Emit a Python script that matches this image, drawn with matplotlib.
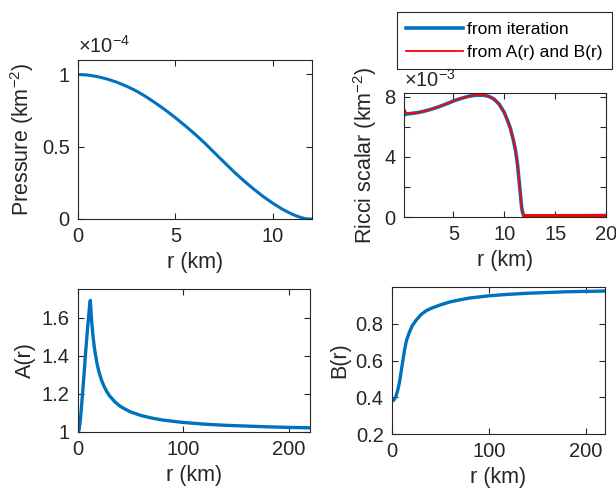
import numpy as np
import matplotlib
matplotlib.use('Agg')
from matplotlib import pyplot as plt

plt.rcParams['font.family'] = ['Liberation Sans', 'DejaVu Sans']
plt.rcParams['mathtext.fontset'] = 'custom'
plt.rcParams['mathtext.rm'] = 'Liberation Sans'
plt.rcParams['mathtext.it'] = 'Liberation Sans:italic'

BLUE = '#0072BD'
RED = '#FF0000'
AXC = '#262626'

# pressure profile (units of 1e-4 km^-2)
r_p = [0, 0.5, 1, 1.5, 2, 2.5, 3, 3.5, 4, 4.5, 5, 5.5, 6, 6.5, 7, 7.5, 8,
       8.5, 9, 9.5, 10, 10.5, 11, 11.3, 11.6, 11.8, 12]
pressure = [1.0, 0.996, 0.985, 0.968, 0.946, 0.918, 0.885, 0.845, 0.80,
            0.752, 0.70, 0.645, 0.587, 0.525, 0.458, 0.392, 0.326, 0.265,
            0.208, 0.155, 0.108, 0.066, 0.032, 0.016, 0.004, 0.0, 0.0]

# Ricci scalar (units of 1e-3 km^-2)
r_ric = [0.13, 0.36, 0.86, 1.5, 2.0, 2.5, 3.0, 3.5, 4.0, 4.5, 5.0, 5.5, 6.0,
         6.5, 7.0, 7.5, 8.0, 8.5, 9.0, 9.5, 10.0, 10.3, 10.6, 10.9, 11.1,
         11.3, 11.45, 11.6, 11.7, 11.8, 11.9, 12.0]
ricci_iter = [6.78, 6.85, 6.89, 6.95, 7.02, 7.11, 7.21, 7.32, 7.45, 7.58,
              7.72, 7.84, 7.94, 8.03, 8.09, 8.11, 8.10, 8.02, 7.84, 7.50,
              6.95, 6.45, 5.89, 5.10, 4.44, 3.50, 2.44, 1.40, 0.67, 0.30,
              0.11, 0.06]
ricci_AB = [7.22, 6.93, 6.89, 6.95, 7.02, 7.11, 7.21, 7.32, 7.45, 7.58,
            7.72, 7.84, 7.94, 8.03, 8.09, 8.11, 8.10, 8.02, 7.84, 7.50,
            6.95, 6.45, 5.89, 5.10, 4.44, 3.50, 2.44, 1.40, 0.67, 0.30,
            0.11, 0.05]
# outside the star both curves scatter around zero
r_tail = [12.0, 14.0, 16.0, 18.0, 20.0]
ricci_iter_tail = [0.06, 0.06, 0.07, 0.07, 0.08]
ricci_AB_tail = [0.05, 0.05, 0.05, 0.05, 0.05]

# metric functions
r_A = [0, 1, 2, 3, 4, 5, 6, 7, 8, 9, 10, 11, 11.7, 12.5, 13, 14, 15, 16, 18,
       20, 22.5, 25, 27.5, 30, 35, 40, 45, 50, 60, 70, 80, 90, 100, 120, 140,
       160, 180, 200, 220]
A_r = [1.0, 1.01, 1.05, 1.11, 1.18, 1.25, 1.32, 1.40, 1.47, 1.54, 1.60, 1.66,
       1.69, 1.617, 1.58, 1.517, 1.466, 1.425, 1.36, 1.313, 1.269, 1.236,
       1.21, 1.189, 1.158, 1.135, 1.119, 1.105, 1.086, 1.073, 1.063, 1.056,
       1.050, 1.041, 1.035, 1.031, 1.027, 1.024, 1.022]
r_B = [0, 2, 4, 6, 8, 10, 11.7, 13, 15, 18, 21, 25, 30, 35, 40, 50, 60, 70,
       80, 100, 120, 140, 160, 180, 200, 220]
B_r = [0.38, 0.385, 0.405, 0.44, 0.49, 0.56, 0.615, 0.66, 0.71, 0.755, 0.79,
       0.82, 0.85, 0.87, 0.883, 0.903, 0.919, 0.93, 0.94, 0.952, 0.96, 0.966,
       0.970, 0.974, 0.976, 0.978]

TICK_FS = 14.5
LABEL_FS = 15.5


def style(ax):
    for s in ax.spines.values():
        s.set_color(AXC)
        s.set_linewidth(0.8)
    ax.tick_params(direction='in', top=True, right=True, colors=AXC,
                   labelsize=TICK_FS, length=4, width=0.8, pad=6)


def exponent(ax, text):
    ax.text(0.0, 1.02, text, transform=ax.transAxes, fontsize=TICK_FS,
            color=AXC, ha='left', va='bottom')


def main():
    fig = plt.figure(figsize=(6.16, 4.95), dpi=100)

    ax1 = fig.add_axes([0.1266, 0.5576, 0.3799, 0.3212])
    ax1.plot(r_p, pressure, color=BLUE, lw=2.2)
    ax1.set_xlim(0, 12)
    ax1.set_ylim(0, 1.1)
    ax1.set_xticks([0, 5, 10])
    ax1.set_yticks([0, 0.5, 1])
    ax1.set_yticklabels(['0', '0.5', '1'])
    ax1.set_xlabel('r (km)', fontsize=LABEL_FS, color=AXC)
    ax1.set_ylabel(r'Pressure (km$^{\mathregular{-2}}$)', fontsize=LABEL_FS, color=AXC)
    style(ax1)
    exponent(ax1, r'$\times$10$^{\mathregular{-4}}$')

    ax2 = fig.add_axes([0.6558, 0.5616, 0.3279, 0.2505])
    l1, = ax2.plot(r_ric, ricci_iter, color=BLUE, lw=2.6)
    ax2.plot(r_tail, ricci_iter_tail, color=BLUE, lw=3.0)
    l2, = ax2.plot(r_ric, ricci_AB, color=RED, lw=1.3)
    ax2.plot(r_tail, ricci_AB_tail, color=RED, lw=2.8)
    ax2.set_xlim(0.13, 20)
    ax2.set_ylim(0, 8.25)
    ax2.set_xticks([5, 10, 15, 20])
    ax2.set_yticks([0, 2, 4, 6, 8])
    ax2.set_yticklabels(['0', '', '4', '', '8'])
    ax2.set_xlabel('r (km)', fontsize=LABEL_FS, color=AXC)
    ax2.set_ylabel(r'Ricci scalar (km$^{\mathregular{-2}}$)', fontsize=LABEL_FS, color=AXC)
    style(ax2)
    exponent(ax2, r'$\times$10$^{\mathregular{-3}}$')

    ax3 = fig.add_axes([0.1266, 0.1273, 0.3766, 0.2889])
    ax3.plot(r_A, A_r, color=BLUE, lw=2.4)
    ax3.set_xlim(0, 220)
    ax3.set_ylim(1, 1.75)
    ax3.set_xticks([0, 100, 200])
    ax3.set_yticks([1, 1.2, 1.4, 1.6])
    ax3.set_yticklabels(['1', '1.2', '1.4', '1.6'])
    ax3.set_xlabel('r (km)', fontsize=LABEL_FS, color=AXC)
    ax3.set_ylabel('A(r)', fontsize=LABEL_FS, color=AXC)
    style(ax3)

    ax4 = fig.add_axes([0.6364, 0.1232, 0.3458, 0.2970])
    ax4.plot(r_B, B_r, color=BLUE, lw=2.4)
    ax4.set_xlim(0, 220)
    ax4.set_ylim(0.2, 1.0)
    ax4.set_xticks([0, 100, 200])
    ax4.set_yticks([0.2, 0.4, 0.6, 0.8])
    ax4.set_xlabel('r (km)', fontsize=LABEL_FS, color=AXC)
    ax4.set_ylabel('B(r)', fontsize=LABEL_FS, color=AXC)
    style(ax4)

    leg = fig.legend([l1, l2], ['from iteration', 'from A(r) and B(r)'],
                     loc='upper right', bbox_to_anchor=(612 / 616, 1 - 12 / 495),
                     fontsize=12.5, fancybox=False, framealpha=1,
                     handlelength=3.3, handletextpad=0.2, borderpad=0.55,
                     labelspacing=0.45, borderaxespad=0)
    leg.get_frame().set_edgecolor(AXC)
    leg.get_frame().set_linewidth(0.8)

    fig.savefig('out.png', dpi=100)


if __name__ == '__main__':
    main()
